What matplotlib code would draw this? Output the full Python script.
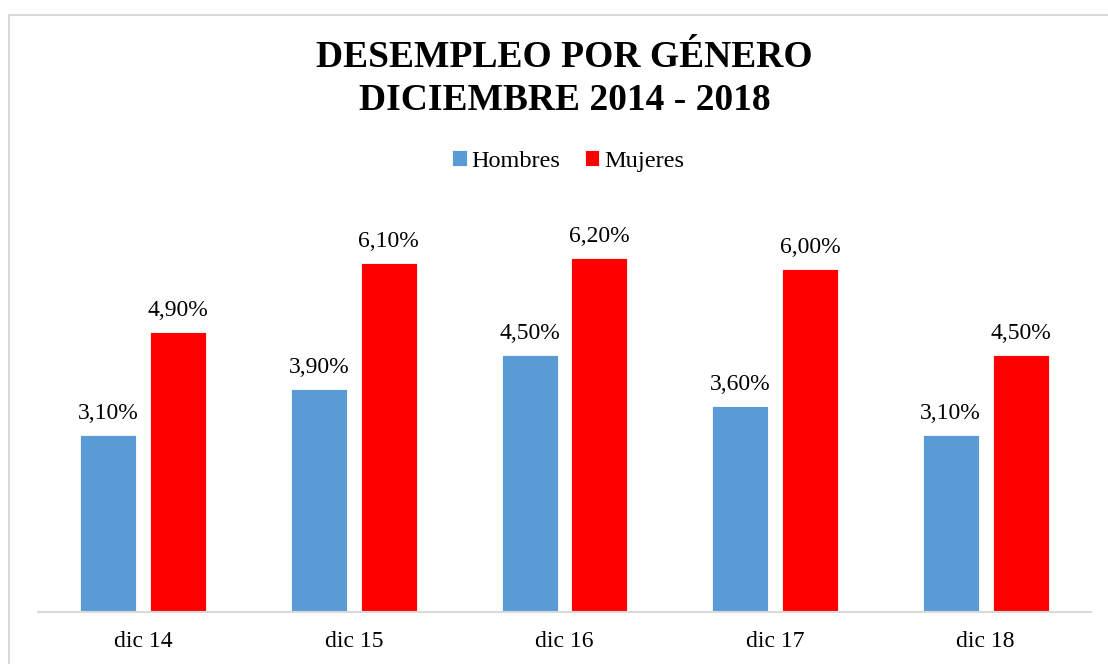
import matplotlib.pyplot as plt
import numpy as np
from matplotlib.patches import Rectangle

categorias = ['dic 14', 'dic 15', 'dic 16', 'dic 17', 'dic 18']
hombres = [3.1, 3.9, 4.5, 3.6, 3.1]
mujeres = [4.9, 6.1, 6.2, 6.0, 4.5]
series = ['Hombres', 'Mujeres']

plt.rcParams['font.family'] = ['Liberation Serif', 'DejaVu Serif']

fig = plt.figure(figsize=(11.08, 6.64), dpi=100)
W, H = 1108, 664

# marco del grafico
fig.patches.append(Rectangle((9/W, -0.1), 1.2, 1 - 15/H + 0.1, transform=fig.transFigure,
                             fill=False, edgecolor='#D9D9D9', linewidth=1.5))

ax = fig.add_axes([38/W, 1 - 612/H, (1091 - 38)/W, (612 - 212)/H])
x = np.arange(len(categorias))
w = 0.266
gap = 0.033
b1 = ax.bar(x - w/2 - gap, hombres, w, color='#5B9BD5', edgecolor='white', linewidth=0.6, label=series[0])
b2 = ax.bar(x + w/2 + gap, mujeres, w, color='#FF0000', edgecolor='white', linewidth=0.6, label=series[1])

for bars, vals in [(b1, hombres), (b2, mujeres)]:
    for b, v in zip(bars, vals):
        ax.annotate(('%.2f%%' % v).replace('.', ','), (b.get_x() + b.get_width()/2, v),
                    xytext=(0, 8), textcoords='offset points', ha='center', va='bottom',
                    fontsize=17)

ax.set_xlim(-0.5, len(categorias) - 0.5)
ax.set_ylim(0, 7)
ax.set_xticks(x)
ax.set_xticklabels(categorias, fontsize=17)
ax.tick_params(axis='x', length=0, pad=14)
ax.set_yticks([])
for s in ['top', 'left', 'right']:
    ax.spines[s].set_visible(False)
ax.spines['bottom'].set_color('#D9D9D9')
ax.spines['bottom'].set_linewidth(1.5)

fig.text(564.5/W, 1 - 79/H, 'DESEMPLEO POR GÉNERO\nDICIEMBRE 2014 - 2018', ha='center', va='center',
         fontsize=27, fontweight='bold', linespacing=1.3)

fig.legend(handles=[b1, b2], labels=series, loc='center', bbox_to_anchor=(568/W, 1 - 161/H),
           ncol=2, frameon=False, fontsize=17.5, handlelength=0.6, handleheight=0.6,
           handletextpad=0.2, columnspacing=1.0)

plt.savefig('out.png', dpi=100)
